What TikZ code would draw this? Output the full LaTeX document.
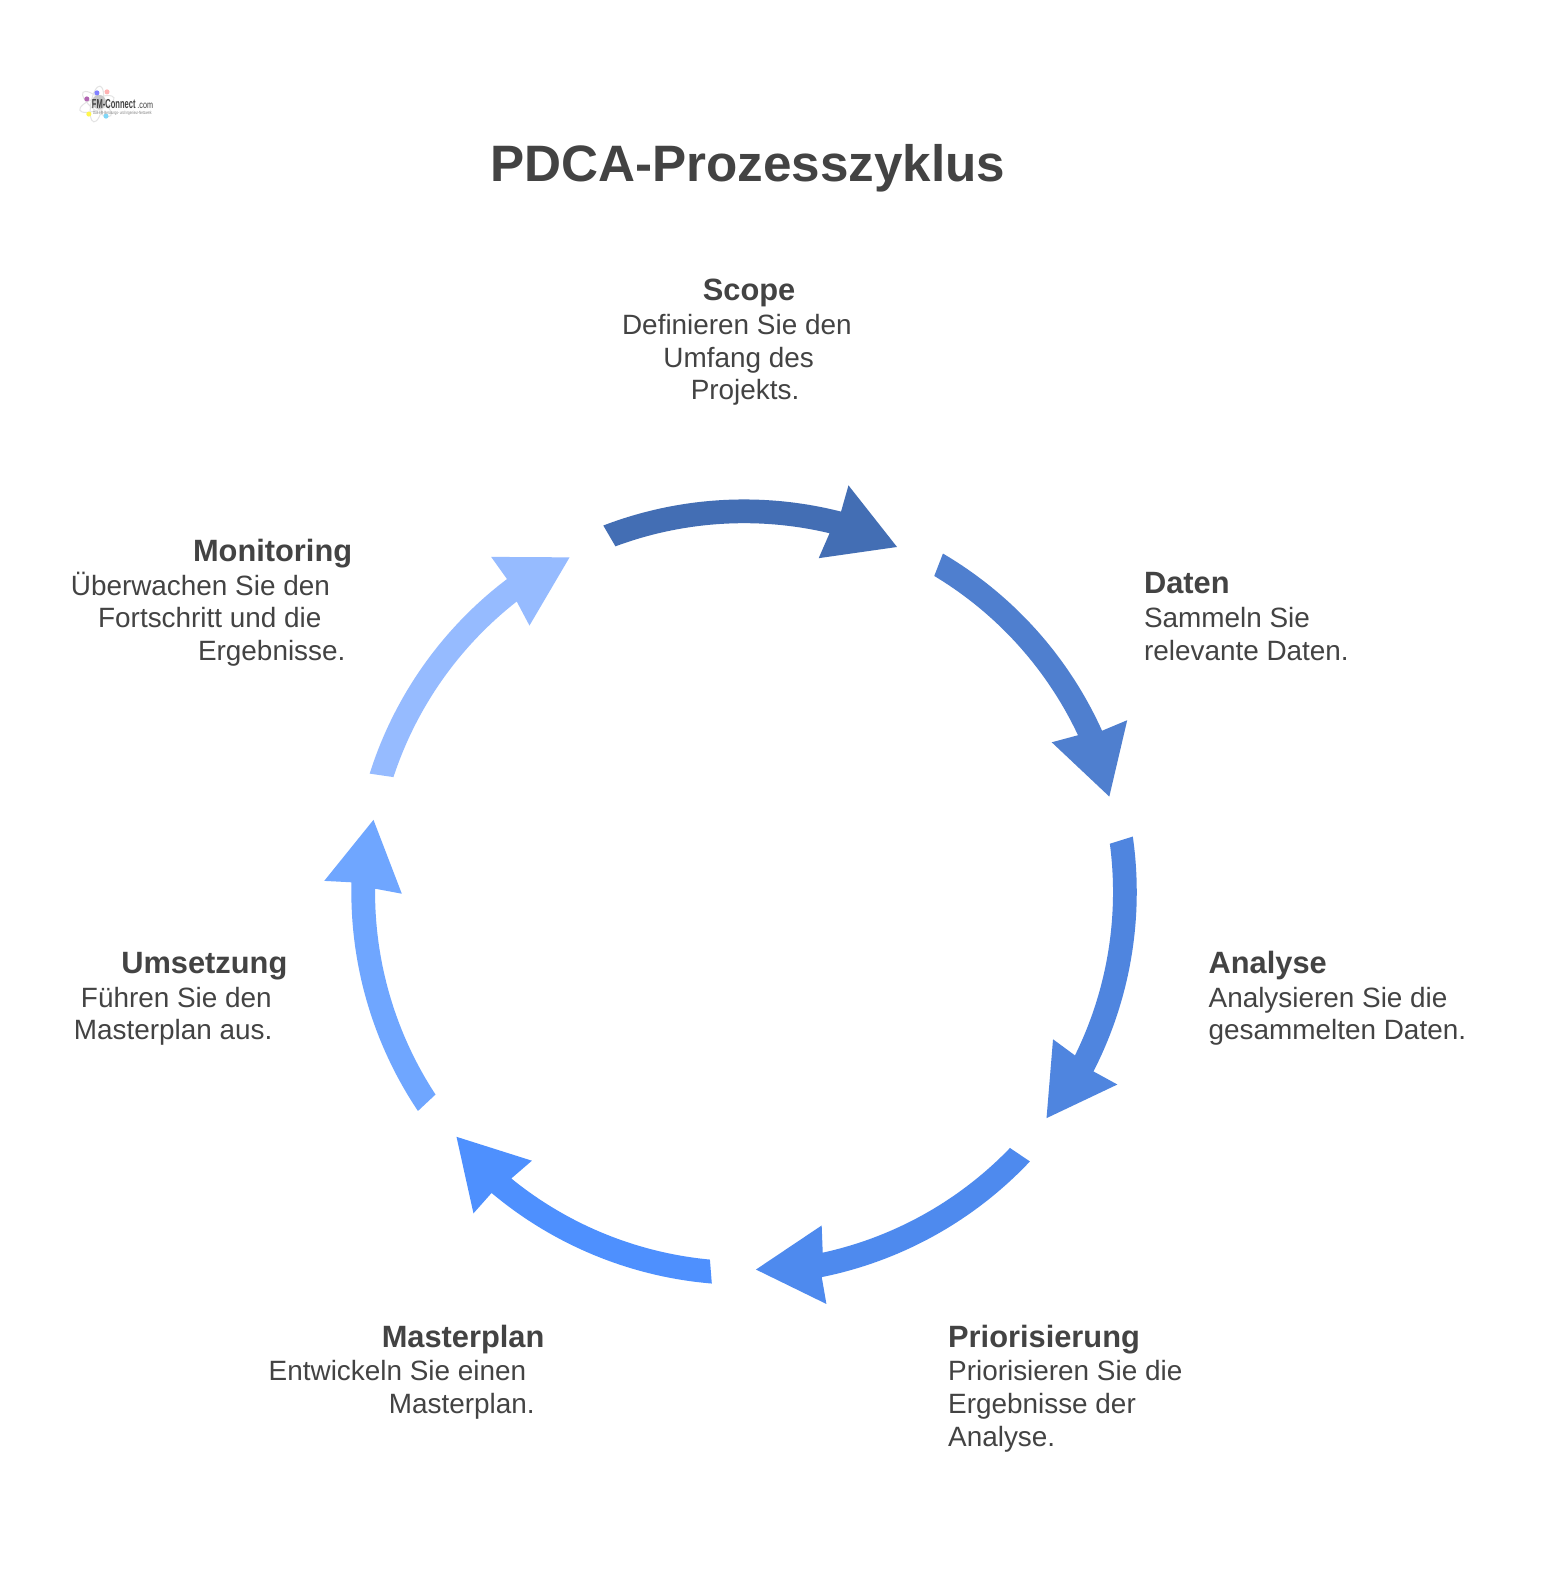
\documentclass[tikz,border=0pt]{standalone}
\usepackage{fontspec}
\setmainfont{Liberation Sans}
\usepackage{xcolor}
\definecolor{textgrey}{HTML}{434343}
\definecolor{arrowa}{HTML}{436EB4}
\definecolor{arrowb}{HTML}{4F7FCF}
\definecolor{arrowc}{HTML}{4F85DF}
\definecolor{arrowd}{HTML}{4E8AEE}
\definecolor{arrowe}{HTML}{4E90FE}
\definecolor{arrowf}{HTML}{6FA6FF}
\definecolor{arrowg}{HTML}{96BBFF}
\tikzset{
  blockhead/.style={anchor=base west, inner sep=0pt, text=textgrey, font=\fontsize{30.8}{36}\selectfont\bfseries},
  blockbody/.style={anchor=base west, inner sep=0pt, text=textgrey, align=left, font=\fontsize{27.9}{32.6}\selectfont},
}

\begin{document}
\begin{tikzpicture}[x=1.00957pt, y=1.00957pt]

\useasboundingbox (0,0) rectangle (1543.2,-1568);
\fill[white] (0,0) rectangle (1543.2,-1568);

\begin{scope}[shift={(737,-883.7)}]
\foreach \a/\c in {0/arrowa, -51.43/arrowb, -102.86/arrowc, -154.29/arrowd, -205.71/arrowe, -257.14/arrowf, -308.57/arrowg}
\fill[color=\c] (\a+111:389) arc[start angle=\a+111, end angle=\a+75.7, radius=389] -- (\a+75.6:416) -- (\a+66.1:374) -- (\a+77.4:339) -- (\a+76.6:365.5) arc[start angle=\a+76.6, end angle=\a+110.4, radius=365.5] -- cycle;
\end{scope}

\node[anchor=base, inner sep=0pt, text=textgrey, font=\fontsize{51.2}{60}\selectfont\bfseries] (title) at (740.5,-180) {PDCA-Prozesszyklus};

\node[blockhead] (scopehead) at (696,-298) {Scope};
\node[blockbody] (scopebody) at (616,-396) {Definieren Sie den\\\hspace*{41.4pt}Umfang des\\\hspace*{68.7pt}Projekts.};

\node[blockhead] (datenhead) at (1133,-654.3+66.3) {Daten};
\node[blockbody] (datenbody) at (1133,-654) {Sammeln Sie\\relevante Daten.};

\node[blockhead] (analysehead) at (1197,-964) {Analyse};
\node[blockbody] (analysebody) at (1197,-1030) {Analysieren Sie die\\gesammelten Daten.};

\node[blockhead] (priohead) at (939,-1334.5) {Priorisierung};
\node[blockbody] (priobody) at (939,-1432.3) {Priorisieren Sie die\\Ergebnisse der\\Analyse.};

\node[blockhead] (masterhead) at (378,-1334.5) {Masterplan};
\node[blockbody] (masterbody) at (266,-1400) {Entwickeln Sie einen\\\hspace*{120.1pt}Masterplan.};

\node[blockhead] (umsetzhead) at (120,-964) {Umsetzung};
\node[blockbody] (umsetzbody) at (73,-1030) {\hspace*{7.1pt}Führen Sie den\\Masterplan aus.};

\node[blockhead] (monihead) at (191,-556) {Monitoring};
\node[blockbody] (monibody) at (70,-654.3) {Überwachen Sie den\\\hspace*{27.3pt}Fortschritt und die\\\hspace*{127.2pt}Ergebnisse.};

% logo
\foreach \r in {20, 80, 140}
\draw[gray!22, line width=1pt, rotate around={\r:(96,-103)}] (96,-103) ellipse (18 and 6);
\fill[gray!45] (98,-101) circle (7);
\foreach \x/\y/\c in {86/-98/violet!60, 96/-92/blue!50, 106/-91/red!30, 88/-113/yellow!70, 105/-115/cyan!50}
\fill[color=\c] (\x,\y) circle (2.5);
\node[anchor=base west, inner sep=0pt, xscale=.58, text=textgrey, font=\fontsize{13}{14}\selectfont\bfseries] (logoname) at (91,-107) {FM-Connect};
\node[anchor=base west, inner sep=0pt, xscale=.72, text=textgrey, font=\fontsize{10}{11}\selectfont] (logocom) at (136,-107) {.com};
\node[anchor=base west, inner sep=0pt, xscale=.65, text=gray, font=\fontsize{4.6}{5}\selectfont] (logosub) at (92,-113) {Das FM-Beratungs- und Ingenieur-Netzwerk};

\end{tikzpicture}
\end{document}
